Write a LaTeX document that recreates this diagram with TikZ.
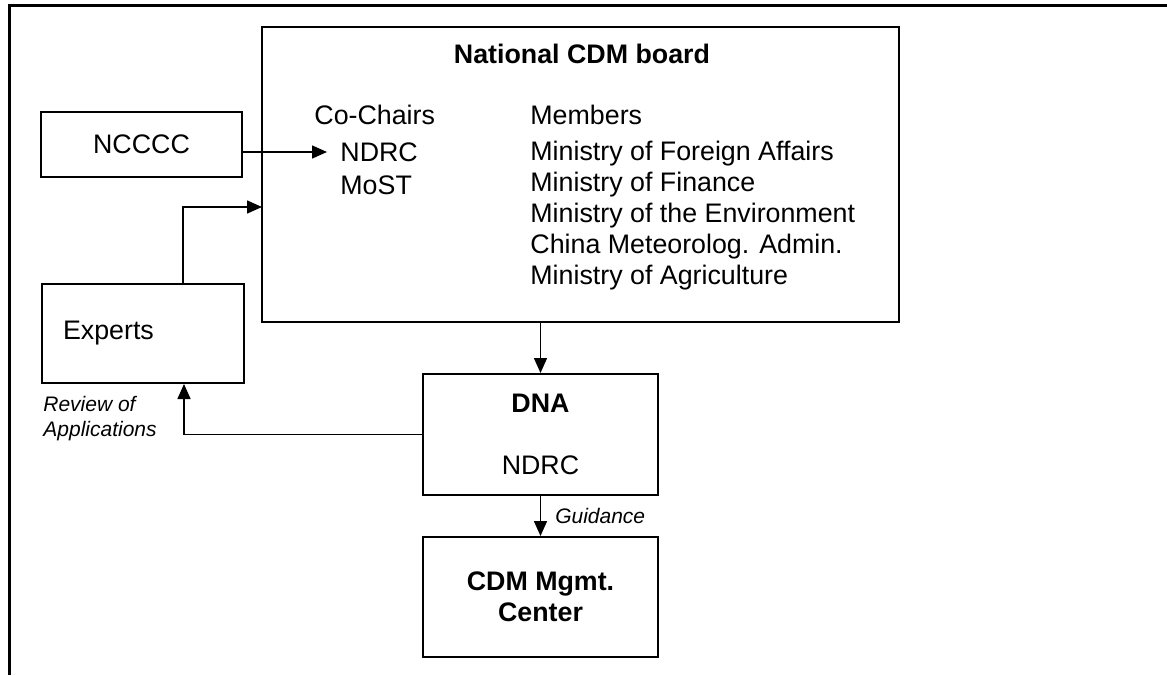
\documentclass[tikz,border=0pt]{standalone}
\usepackage{fontspec}
\setmainfont{Liberation Sans}
\usetikzlibrary{arrows.meta,positioning}

\tikzset{
  box/.style={draw, line width=1pt, inner sep=0pt},
  conn/.style={line width=0.75pt, -{Triangle[length=7.5pt,width=6.5pt]}},
  lbl/.style={font=\fontsize{10.5}{12.5}\selectfont\itshape, inner sep=0pt, align=left},
  txt/.style={anchor=west, inner sep=0pt, align=left}
}

\begin{document}
\begin{tikzpicture}[x=0.5pt,y=-0.5pt,font=\fontsize{13.4}{15.5}\selectfont]
  \useasboundingbox (0,0) rectangle (1167,675);
  \draw[line width=1.5pt] (9,675) -- (9,5) -- (1167,5);

  % board
  \node[box, minimum width=318.5pt, minimum height=147.5pt] (board) at (580.5,174.5) {};
  \node[font=\fontsize{13.4}{15.5}\selectfont\bfseries] (title) at (582,54) {National CDM board};
  \node[txt] (chairs) at (314,115) {Co-Chairs};
  \node[txt] (ndrc) at (340,152) {NDRC};
  \node[txt] (most) at (340,185) {MoST};
  \node[txt] (members) at (530,115) {Members};
  \node[txt] (list) at (530,216) {Ministry of Foreign Affairs\\Ministry of Finance\\Ministry of the Environment\\China Meteorolog. Admin.\\Ministry of Agriculture};

  % side boxes
  \node[box, minimum width=100.5pt, minimum height=32.5pt] (ncccc) at (141.5,144.5) {NCCCC};
  \node[box, text width=80pt, inner xsep=10.5pt, minimum height=49.5pt, align=left] (experts) at (143,333.5) {Experts};
  \node[lbl, anchor=north west] (review) at (43,396) {Review of\\Applications};

  % DNA and center
  \node[box, minimum width=117.5pt, minimum height=60.5pt, align=center] (dna) at (540.5,434.5) {\textbf{DNA}\\[15.5pt]NDRC};
  \node[box, minimum width=117.5pt, minimum height=60pt, align=center, font=\fontsize{13.4}{15.5}\selectfont\bfseries] (cdm) at (540.5,597) {CDM Mgmt.\\Center};

  \coordinate (expin) at (262,207);

  \draw[conn, shorten >=6.5pt] (ncccc.east |- ndrc.west) -- (ndrc.west);
  \draw[conn] ([xshift=20pt]experts.north) |- (expin);
  \draw[conn] (board.south -| dna.north) -- (dna.north);
  \draw[conn] (dna.west) -| ([xshift=20.5pt]experts.south);
  \draw[conn] (dna) -- node[lbl, right=7pt] {Guidance} (cdm);
\end{tikzpicture}
\end{document}
